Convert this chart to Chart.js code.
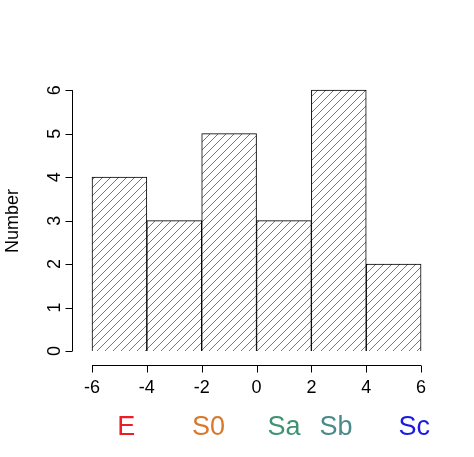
<!DOCTYPE html>
<html><head><meta charset="utf-8">
<script src="https://cdn.jsdelivr.net/npm/chart.js@4"></script>
<style>html,body{margin:0;padding:0;background:#fff}#w{width:474px;height:457px}</style>
</head><body><div id="w"><canvas id="c"></canvas></div>
<script>
const binCenters = [-5, -3, -1, 1, 3, 5];
const counts = [4, 3, 5, 3, 6, 2];
const xTicks = [-6, -4, -2, 0, 2, 4, 6];
const yTicks = [0, 1, 2, 3, 4, 5, 6];
const typeLabels = ['E', 'S0', 'Sa', 'Sb', 'Sc'];
const typePos = [-4.75, -1.75, 1.0, 2.9, 5.75];
const typeColors = ['#ee1c25', '#d8782a', '#3f9373', '#4a8a8a', '#1a1ae6'];

function hatch(){
  const p=document.createElement('canvas');p.width=8;p.height=8;
  const g=p.getContext('2d');g.fillStyle='#fff';g.fillRect(0,0,8,8);
  g.strokeStyle='#555';g.lineWidth=0.8;
  g.beginPath();g.moveTo(0,8);g.lineTo(8,0);g.moveTo(-2,2);g.lineTo(2,-2);g.moveTo(6,10);g.lineTo(10,6);g.stroke();
  return g.createPattern(p,'repeat');
}
const ctx=document.getElementById('c').getContext('2d');
const axes={id:'axes',afterDraw(ch){
  const c=ch.ctx,x=ch.scales.x,y=ch.scales.y;
  c.save();c.strokeStyle='#000';c.lineWidth=1;c.fillStyle='#000';
  c.font='18px "Liberation Sans", Arial, sans-serif';
  const ax=72.5, ay=365.5;
  c.beginPath();c.moveTo(ax,y.getPixelForValue(0));c.lineTo(ax,y.getPixelForValue(6));
  yTicks.forEach(v=>{const py=Math.round(y.getPixelForValue(v))+0.5;c.moveTo(ax,py);c.lineTo(ax-7,py);});
  c.moveTo(x.getPixelForValue(-6),ay);c.lineTo(x.getPixelForValue(6),ay);
  xTicks.forEach(v=>{const px=Math.round(x.getPixelForValue(v))+0.5;c.moveTo(px,ay);c.lineTo(px,ay+7);});
  c.stroke();
  c.textAlign='center';c.textBaseline='middle';
  xTicks.forEach(v=>c.fillText(String(v),x.getPixelForValue(v),388));
  yTicks.forEach(v=>{c.save();c.translate(55,y.getPixelForValue(v));c.rotate(-Math.PI/2);c.fillText(String(v),0,0);c.restore();});
  c.save();c.translate(13,221);c.rotate(-Math.PI/2);c.fillText('Number',0,0);c.restore();
  c.font='27px "Liberation Sans", Arial, sans-serif';
  typeLabels.forEach((t,i)=>{c.fillStyle=typeColors[i];c.fillText(t,x.getPixelForValue(typePos[i]),428);});
  c.restore();
}};
new Chart(ctx,{type:'bar',
  data:{datasets:[{data:binCenters.map((b,i)=>({x:b,y:counts[i]})),backgroundColor:hatch(),borderColor:'#000',borderWidth:1,barPercentage:1,categoryPercentage:1}]},
  options:{responsive:true,maintainAspectRatio:false,animation:false,
    layout:{padding:{left:72,right:34,top:78,bottom:92}},
    plugins:{legend:{display:false},tooltip:{enabled:false}},
    scales:{x:{type:'linear',min:-6.73,max:6.69,display:false,offset:false},y:{min:-0.32,max:6.28,display:false}}},
  plugins:[axes]});
</script></body></html>
